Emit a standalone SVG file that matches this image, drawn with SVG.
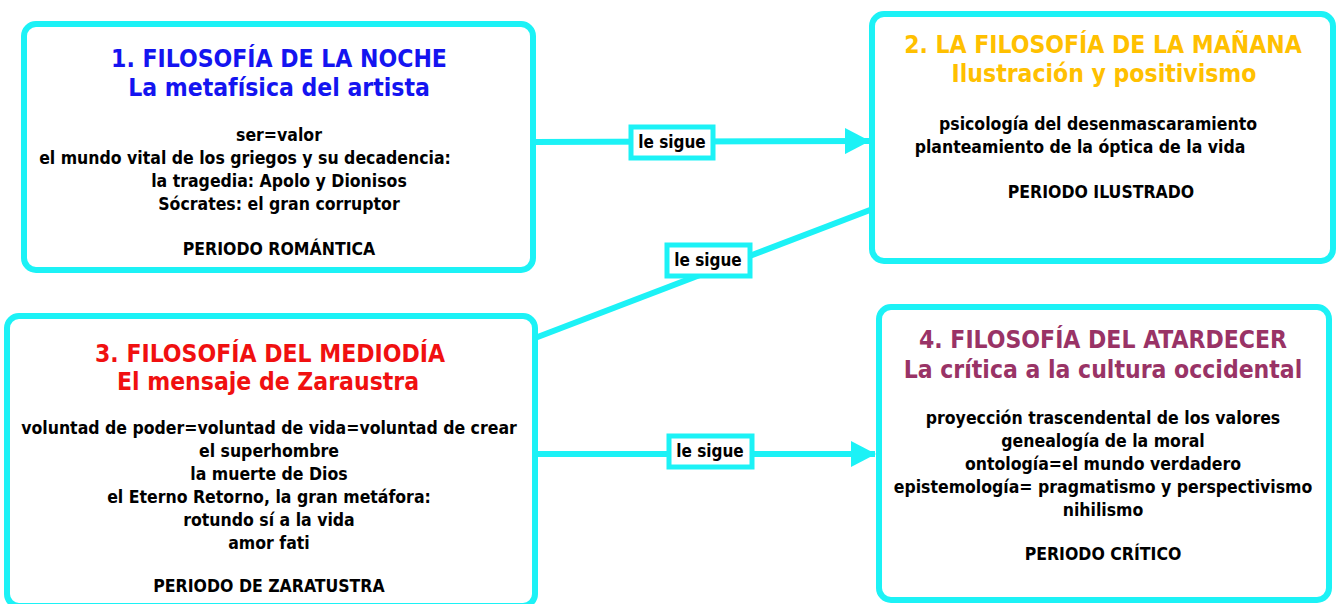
<svg xmlns="http://www.w3.org/2000/svg" width="1338" height="604" viewBox="0 0 1338 604">
<defs>
<style>
.box{fill:#fff;stroke:#1CF2F6;stroke-width:6}
.lbl{fill:#fff;stroke:#1CF2F6;stroke-width:5}
.con{stroke:#1CF2F6;stroke-width:6;fill:none}
text{font-family:"DejaVu Sans Condensed","DejaVu Sans",sans-serif;font-stretch:condensed;font-weight:bold;text-anchor:middle}
.t{font-size:24.5px}
.b{font-size:17.5px;fill:#000}
.l{font-size:17px;fill:#000}
</style>
<marker id="ah" markerWidth="25" markerHeight="26" refX="24" refY="13" orient="auto" markerUnits="userSpaceOnUse">
<path d="M0,0 L25,13 L0,26 Z" fill="#1CF2F6"/>
</marker>
</defs>
<g id="connectors">
<line class="con" x1="533" y1="142" x2="869" y2="141" marker-end="url(#ah)"/>
<line class="con" x1="535" y1="338" x2="870" y2="210"/>
<line class="con" x1="535" y1="454" x2="875" y2="454" marker-end="url(#ah)"/>
<g id="label1"><rect class="lbl" x="631" y="127" width="82" height="31"/><text class="l" x="672" y="148">le sigue</text></g>
<g id="label2"><rect class="lbl" x="667" y="245" width="83" height="31"/><text class="l" x="708" y="266">le sigue</text></g>
<g id="label3"><rect class="lbl" x="669" y="436" width="83" height="31"/><text class="l" x="710" y="457">le sigue</text></g>
</g>
<g id="node1">
<rect class="box" x="24" y="24" width="509" height="246" rx="12"/>
<text class="t" x="279" y="67" fill="#1414F0">1. FILOSOFÍA DE LA NOCHE</text>
<text class="t" x="279" y="96" fill="#1414F0">La metafísica del artista</text>
<text class="b" x="279" y="141">ser=valor</text>
<text class="b" x="245" y="164">el mundo vital de los griegos y su decadencia:</text>
<text class="b" x="279" y="187">la tragedia: Apolo y Dionisos</text>
<text class="b" x="279" y="210">Sócrates: el gran corruptor</text>
<text class="b" x="279" y="255">PERIODO ROMÁNTICA</text>
</g>
<g id="node2">
<rect class="box" x="872" y="14" width="461" height="247" rx="12"/>
<text class="t" x="1103" y="53" fill="#FFC000">2. LA FILOSOFÍA DE LA MAÑANA</text>
<text class="t" x="1104" y="82" fill="#FFC000">Ilustración y positivismo</text>
<text class="b" x="1098" y="130">psicología del desenmascaramiento</text>
<text class="b" x="1080" y="153">planteamiento de la óptica de la vida</text>
<text class="b" x="1101" y="198">PERIODO ILUSTRADO</text>
</g>
<g id="node3">
<rect class="box" x="7" y="316" width="528" height="290" rx="12"/>
<text class="t" x="270" y="362" fill="#F01010">3. FILOSOFÍA DEL MEDIODÍA</text>
<text class="t" x="268" y="390" fill="#F01010">El mensaje de Zaraustra</text>
<text class="b" x="269" y="434">voluntad de poder=voluntad de vida=voluntad de crear</text>
<text class="b" x="269" y="457">el superhombre</text>
<text class="b" x="269" y="480">la muerte de Dios</text>
<text class="b" x="269" y="503">el Eterno Retorno, la gran metáfora:</text>
<text class="b" x="269" y="526">rotundo sí a la vida</text>
<text class="b" x="269" y="549">amor fati</text>
<text class="b" x="269" y="592">PERIODO DE ZARATUSTRA</text>
</g>
<g id="node4">
<rect class="box" x="879" y="307" width="450" height="293" rx="12"/>
<text class="t" x="1103" y="348" fill="#993366">4. FILOSOFÍA DEL ATARDECER</text>
<text class="t" x="1103" y="378" fill="#993366">La crítica a la cultura occidental</text>
<text class="b" x="1103" y="424">proyección trascendental de los valores</text>
<text class="b" x="1103" y="447">genealogía de la moral</text>
<text class="b" x="1103" y="470">ontología=el mundo verdadero</text>
<text class="b" x="1103" y="493">epistemología= pragmatismo y perspectivismo</text>
<text class="b" x="1103" y="516">nihilismo</text>
<text class="b" x="1103" y="560">PERIODO CRÍTICO</text>
</g>
</svg>
